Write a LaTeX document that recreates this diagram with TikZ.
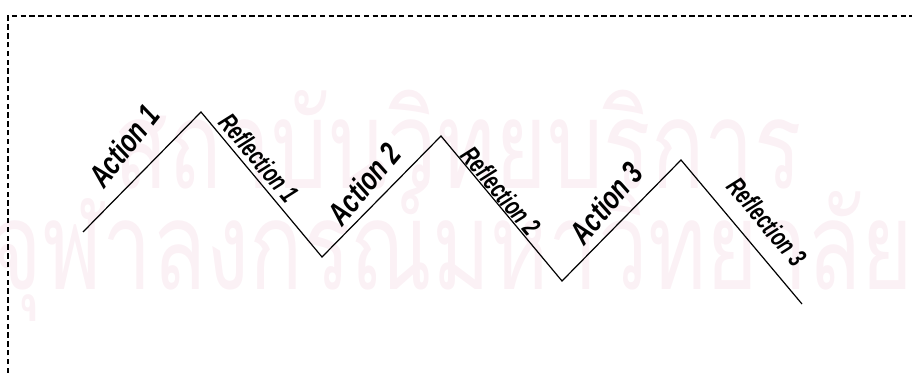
\documentclass[tikz,border=0pt]{standalone}
\usepackage{fontspec}
\setmainfont{Liberation Sans}
\newfontfamily\thaifont[Script=Thai]{Loma}
\definecolor{wmpink}{RGB}{251,241,245}

\begin{document}
\begin{tikzpicture}[x=0.75pt, y=-0.75pt,
    frame/.style={draw, line width=1.1pt, dash pattern=on 4pt off 2.6pt},
    zigzag/.style={draw, line width=0.9pt},
    actlbl/.style={font=\fontsize{24}{24}\selectfont\bfseries\itshape, inner sep=0pt},
    reflbl/.style={font=\fontsize{20}{20}\selectfont\bfseries\itshape, inner sep=0pt},
    watermark/.style={text=wmpink, inner sep=0pt, font=\thaifont\fontsize{92}{92}\selectfont}]
    \useasboundingbox (0,0) rectangle (912,373);

    % ลายน้ำ
    \node[watermark, xscale=0.72] (wmtop) at (458,140) {สถาบันวิทยบริการ};
    \node[watermark, xscale=0.72] (wmbot) at (452,252) {จุฬาลงกรณ์มหาวิทยาลัย};

    % กรอบเส้นประ
    \coordinate (fa) at (8,373);
    \coordinate (fb) at (8,16);
    \coordinate (fc) at (912,16);
    \draw[frame] (fa) -- (fb) -- (fc);

    % จุดของเส้นซิกแซก
    \coordinate (s0) at (83,232);
    \coordinate (p1) at (201,112);
    \coordinate (v1) at (322,257);
    \coordinate (p2) at (441,136);
    \coordinate (v2) at (562,281);
    \coordinate (p3) at (681,160);
    \coordinate (e3) at (802,304);
    \draw[zigzag] (s0) -- (p1) -- (v1) -- (p2) -- (v2) -- (p3) -- (e3);

    % ป้ายกำกับ
    \node[actlbl, rotate=52] (act1) at (124,146) {\scalebox{0.74}[1]{Action 1}};
    \node[reflbl, rotate=-50] (ref1) at (259,158) {\scalebox{0.7}[1]{Reflection 1}};
    \node[actlbl, rotate=50] (act2) at (364,184) {\scalebox{0.74}[1]{Action 2}};
    \node[reflbl, rotate=-50] (ref2) at (501,191) {\scalebox{0.7}[1]{Reflection 2}};
    \node[actlbl, rotate=50] (act3) at (606,203) {\scalebox{0.74}[1]{Action 3}};
    \node[reflbl, rotate=-50] (ref3) at (767,222) {\scalebox{0.7}[1]{Reflection 3}};
\end{tikzpicture}
\end{document}
